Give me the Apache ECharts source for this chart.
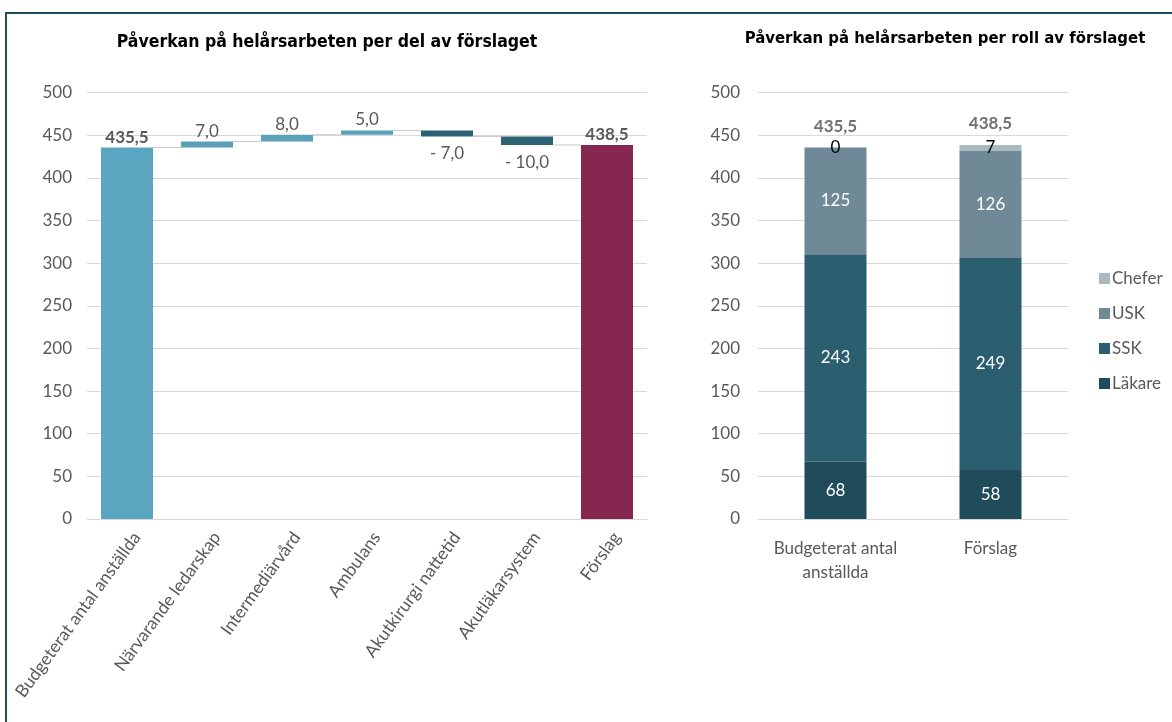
<!DOCTYPE html>
<html>
<head>
<meta charset="utf-8">
<script src="https://cdn.jsdelivr.net/npm/echarts@6/dist/echarts.min.js"></script>
<style>
html,body{margin:0;padding:0;background:#fff;}
#frame{position:absolute;left:5px;top:12px;width:1167px;height:710px;border-top:2px solid #1f4d5a;border-left:2px solid #1f4d5a;box-sizing:border-box;}
#chart{position:absolute;left:0;top:0;width:1172px;height:722px;}
</style>
</head>
<body>
<div id="frame"></div>
<div id="chart"></div>
<script>
// ---- Data ----
var wfCategories = ['Budgeterat antal anställda', 'Närvarande ledarskap', 'Intermediärvård', 'Ambulans', 'Akutkirurgi nattetid', 'Akutläkarsystem', 'Förslag'];
var wfStart = 435.5;
var wfChanges = [7, 8, 5, -7, -10];

var roleCategories = ['Budgeterat antal\nanställda', 'Förslag'];
var roleNames = ['Läkare', 'SSK', 'USK', 'Chefer'];
var lakare = [67.5, 57.5];
var ssk = [243, 248.5];
var usk = [125, 125.5];
var chefer = [0, 7];

var yTicks = [0, 50, 100, 150, 200, 250, 300, 350, 400, 450, 500];

// ---- Derived ----
var cBase = '#5aa5c0', cInc = '#5b9fb8', cDec = '#2c6174', cEnd = '#85274f';
var roleColors = ['#1f4b5b', '#2b5f70', '#6f8a96', '#aab8bf'];

var wfBase = [], wfVal = [], wfColors = [], levels = [];
var cum = wfStart;
wfBase.push(0); wfVal.push(wfStart); wfColors.push(cBase); levels.push(cum);
wfChanges.forEach(function (d) {
  var next = cum + d;
  wfBase.push(Math.min(cum, next));
  wfVal.push(Math.abs(d));
  wfColors.push(d >= 0 ? cInc : cDec);
  cum = next;
  levels.push(cum);
});
var wfEnd = cum;
wfBase.push(0); wfVal.push(wfEnd); wfColors.push(cEnd);

function fmt1(v) { return v.toFixed(1).replace('.', ','); }

var wfValData = wfVal.map(function (v, i) {
  var isTotal = (i === 0 || i === wfVal.length - 1);
  var neg = (!isTotal && wfChanges[i - 1] < 0);
  var txt = isTotal ? fmt1(v) : (neg ? '- ' + fmt1(v) : fmt1(v));
  return {
    value: v,
    itemStyle: { color: wfColors[i] },
    label: {
      show: true,
      position: neg ? 'bottom' : 'top',
      distance: neg ? 9 : 2,
      formatter: txt,
      fontWeight: isTotal ? 'bold' : 'normal'
    }
  };
});

var connectors = levels.map(function (lv, i) { return [i, lv]; });

var totals = lakare.map(function (v, i) { return lakare[i] + ssk[i] + usk[i] + chefer[i]; });

var font = 'Lato, "Open Sans", sans-serif';
var FS = 17;
var axisLabelStyle = { color: '#595959', fontSize: FS, fontFamily: font };
var titleFont = '"DejaVu Sans Condensed", "Liberation Sans Narrow", sans-serif';

var chart = echarts.init(document.getElementById('chart'), null, { renderer: 'canvas' });

var roleSeries = [lakare, ssk, usk, chefer].map(function (arr, k) {
  var isChef = k === 3;
  return {
    name: roleNames[k],
    type: 'bar',
    stack: 'roles',
    xAxisIndex: 1, yAxisIndex: 1,
    barWidth: '40%',
    data: arr,
    itemStyle: { color: roleColors[k] },
    label: {
      show: true,
      position: 'inside',
      color: isChef ? '#000' : '#fff',
      fontSize: FS,
      fontFamily: font,
      formatter: function (p) { return String(Math.round(p.value)); }
    }
  };
});

var option = {
  animation: false,
  backgroundColor: 'transparent',
  textStyle: { fontFamily: font },
  title: [
    { text: 'Påverkan på helårsarbeten per del av förslaget', left: 322, top: 28, textAlign: 'center',
      textStyle: { fontFamily: titleFont, fontWeight: 'bold', fontSize: 17.5, color: '#000' } },
    { text: 'Påverkan på helårsarbeten per roll av förslaget', left: 940, top: 25, textAlign: 'center',
      textStyle: { fontFamily: titleFont, fontWeight: 'bold', fontSize: 16.6, color: '#000' } }
  ],
  legend: {
    data: ['Chefer', 'USK', 'SSK', 'Läkare'],
    orient: 'vertical',
    left: 1094, top: 265,
    itemWidth: 11, itemHeight: 11, itemGap: 18,
    icon: 'rect',
    textStyle: { color: '#595959', fontSize: FS, fontFamily: font, padding: [0, 0, 0, -3] }
  },
  grid: [
    { left: 87, width: 560, top: 92.5, height: 426.5, containLabel: false },
    { left: 758, width: 310, top: 92.5, height: 426.5, containLabel: false }
  ],
  xAxis: [
    { type: 'category', gridIndex: 0, data: wfCategories,
      axisLine: { lineStyle: { color: '#d9d9d9' } }, axisTick: { show: false },
      axisLabel: Object.assign({}, axisLabelStyle, { fontSize: 17.5, rotate: 54, margin: 8, interval: 0,
        verticalAlign: 'top', lineHeight: 24 }) },
    { type: 'category', gridIndex: 1, data: roleCategories,
      axisLine: { lineStyle: { color: '#d9d9d9' } }, axisTick: { show: false },
      axisLabel: Object.assign({}, axisLabelStyle, { margin: 18, lineHeight: 24, interval: 0 }) }
  ],
  yAxis: [
    { type: 'value', gridIndex: 0, min: 0, max: 500, interval: 50,
      axisLine: { show: false }, axisTick: { show: false },
      splitLine: { lineStyle: { color: '#d9d9d9' } },
      axisLabel: Object.assign({}, axisLabelStyle, { margin: 15 }) },
    { type: 'value', gridIndex: 1, min: 0, max: 500, interval: 50,
      axisLine: { show: false }, axisTick: { show: false },
      splitLine: { lineStyle: { color: '#d9d9d9' } },
      axisLabel: Object.assign({}, axisLabelStyle, { margin: 18 }) }
  ],
  series: [
    { name: 'base', type: 'bar', stack: 'wf', xAxisIndex: 0, yAxisIndex: 0, barWidth: '65%',
      data: wfBase, itemStyle: { color: 'transparent' }, silent: true },
    { name: 'value', type: 'bar', stack: 'wf', xAxisIndex: 0, yAxisIndex: 0, barWidth: '65%',
      data: wfValData,
      label: { color: '#595959', fontSize: FS, fontFamily: font } },
    { name: 'connectors', type: 'custom', xAxisIndex: 0, yAxisIndex: 0, silent: true,
      data: connectors,
      renderItem: function (params, api) {
        var i = api.value(0), lv = api.value(1);
        var band = api.size([1, 0])[0];
        var p1 = api.coord([i, lv]);
        var p2 = api.coord([i + 1, lv]);
        var half = band * 0.325;
        return { type: 'line', shape: { x1: p1[0] + half, y1: p1[1], x2: p2[0] - half, y2: p2[1] },
          style: { stroke: '#c8c8c8', lineWidth: 1 } };
      },
      z: 1 },
    roleSeries[0], roleSeries[1], roleSeries[2], roleSeries[3],
    { name: 'Totalt', type: 'scatter', xAxisIndex: 1, yAxisIndex: 1, symbolSize: 0,
      data: totals, silent: true,
      label: { show: true, position: 'top', distance: 13, color: '#4d4d4d', fontSize: FS, fontWeight: 'bold', fontFamily: font,
        formatter: function (p) { return fmt1(p.value); } } }
  ]
};
chart.setOption(option);
</script>
</body>
</html>
